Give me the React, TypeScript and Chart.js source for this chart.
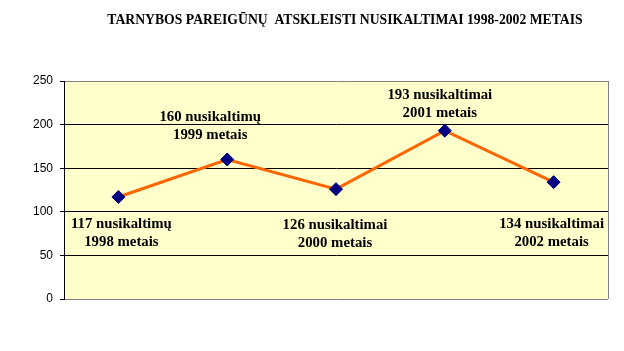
import React, { useEffect, useRef } from "react";
import { Chart, registerables } from "chart.js";

Chart.register(...registerables);

const TITLE = "TARNYBOS PAREIGŪNŲ  ATSKLEISTI NUSIKALTIMAI 1998-2002 METAIS";
const years = ["1998", "1999", "2000", "2001", "2002"];
const crimes = [117, 160, 126, 193, 134];
const nouns = ["nusikaltimų", "nusikaltimų", "nusikaltimai", "nusikaltimai", "nusikaltimai"];
const yTicks = [0, 50, 100, 150, 200, 250];

// label placement relative to each point (pixels)
const labelOffsets = [
  { dx: 3, dy: 27 },
  { dx: -17, dy: -42 },
  { dx: -1, dy: 36 },
  { dx: -5, dy: -36 },
  { dx: -2, dy: 42 },
];

const plotPlugin = {
  id: "plotDeco",
  beforeDraw(chart: any) {
    const { ctx, chartArea: a } = chart;
    ctx.save();
    ctx.fillStyle = "#FFFFCC";
    ctx.fillRect(a.left, a.top, a.right - a.left, a.bottom - a.top);
    ctx.restore();
  },
  afterDraw(chart: any) {
    const { ctx, chartArea: a } = chart;
    ctx.save();
    ctx.strokeStyle = "#808080";
    ctx.lineWidth = 1;
    ctx.beginPath();
    ctx.moveTo(Math.round(a.right) + 0.5, a.top);
    ctx.lineTo(Math.round(a.right) + 0.5, a.bottom);
    ctx.stroke();
    ctx.fillStyle = "#000";
    ctx.font = "bold 13.7px 'Liberation Serif', 'Times New Roman', serif";
    ctx.textAlign = "center";
    ctx.textBaseline = "middle";
    ctx.fillText(TITLE, 345, 20);
    ctx.restore();
  },
  afterDatasetsDraw(chart: any) {
    const { ctx } = chart;
    const meta = chart.getDatasetMeta(0);
    ctx.save();
    ctx.fillStyle = "#000";
    ctx.font = "bold 14.8px 'Liberation Serif', 'Times New Roman', serif";
    ctx.textAlign = "center";
    ctx.textBaseline = "middle";
    meta.data.forEach((pt: any, i: number) => {
      const o = labelOffsets[i];
      ctx.fillText(`${crimes[i]} ${nouns[i]}`, pt.x + o.dx, pt.y + o.dy);
      ctx.fillText(`${years[i]} metais`, pt.x + o.dx, pt.y + o.dy + 18);
    });
    ctx.restore();
  },
};

export default function App() {
  const ref = useRef<HTMLCanvasElement>(null);
  useEffect(() => {
    if (!ref.current) return;
    const chart = new Chart(ref.current, {
      type: "line",
      data: {
        labels: years,
        datasets: [
          {
            data: crimes,
            borderColor: "#FF6600",
            borderWidth: 3,
            pointStyle: "rectRot",
            pointRadius: 6.5,
            pointBackgroundColor: "#000080",
            pointBorderColor: "#000080",
            pointBorderWidth: 1,
            tension: 0,
          },
        ],
      },
      options: {
        animation: false,
        responsive: false,
        maintainAspectRatio: false,
        layout: { padding: { top: 81, bottom: 52, right: 16, left: 0 } },
        plugins: { legend: { display: false }, title: { display: false }, tooltip: { enabled: false } },
        scales: {
          x: { display: false, offset: true },
          y: {
            min: 0,
            max: 250,
            afterFit(scale: any) {
              scale.width = 64;
            },
            afterBuildTicks(scale: any) {
              scale.ticks = yTicks.map((v) => ({ value: v }));
            },
            ticks: {
              color: "#000",
              padding: 7,
              font: { family: "'Liberation Sans', Arial, sans-serif", size: 12 },
            },
            grid: {
              color: (c: any) => (c.tick && (c.tick.value === 0 || c.tick.value === 250) ? "#808080" : "#000"),
              tickColor: "#000",
              tickLength: 4,
              lineWidth: 1,
            },
            border: { color: "#000", width: 1 },
          },
        },
      },
      plugins: [plotPlugin],
    });
    return () => chart.destroy();
  }, []);
  return (
    <div style={{ position: "fixed", left: 0, top: 0, width: 624, height: 351, background: "#fff" }}>
      <canvas ref={ref} width={624} height={351} style={{ width: 624, height: 351, display: "block" }} />
    </div>
  );
}
